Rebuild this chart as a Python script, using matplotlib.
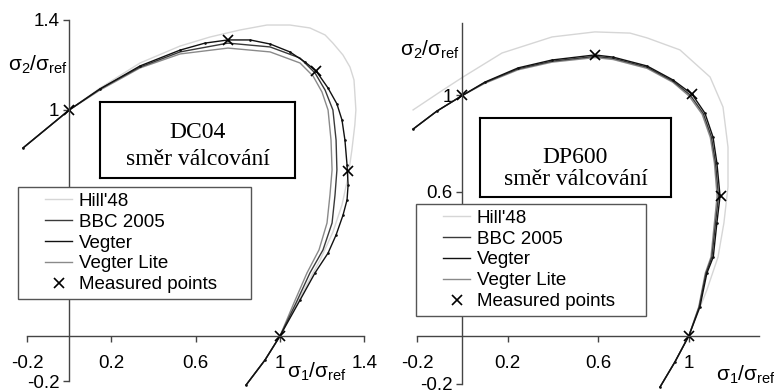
import matplotlib
matplotlib.use('Agg')
import matplotlib.pyplot as plt
from matplotlib.lines import Line2D
from matplotlib.legend_handler import HandlerLine2D

plt.rcParams['font.family'] = 'Liberation Sans'
plt.rcParams['font.size'] = 13.5
plt.rcParams['axes.unicode_minus'] = False
plt.rcParams['mathtext.fontset'] = 'custom'
plt.rcParams['mathtext.rm'] = 'Liberation Sans'
plt.rcParams['mathtext.it'] = 'Liberation Sans:italic'

W, H = 774, 392

# axis ticks
ticks = [-0.2, 0.2, 0.6, 1.0, 1.4]
tick_labels = ['-0.2', '0.2', '0.6', '1', '1.4']
series_names = ["Hill'48", 'BBC 2005', 'Vegter', 'Vegter Lite', 'Measured points']

# DC04, rolling direction (sigma1/sigma_ref, sigma2/sigma_ref)
dc04_hill_x = [-0.219, 0.0, 0.146, 0.336, 0.526, 0.668, 0.810, 0.938, 1.047, 1.142, 1.214, 1.251,
               1.299, 1.332, 1.351, 1.355, 1.360, 1.355, 1.341, 1.323, 1.294, 1.251, 1.190, 1.109,
               1.0, 0.929, 0.839]
dc04_hill_y = [0.832, 1.0, 1.097, 1.208, 1.283, 1.323, 1.354, 1.376, 1.376, 1.363, 1.332, 1.296,
               1.243, 1.190, 1.133, 1.075, 1.0, 0.934, 0.823, 0.704, 0.580, 0.460, 0.336, 0.195,
               0.0, -0.106, -0.217]
dc04_bbc_x = [-0.219, 0.0, 0.146, 0.336, 0.526, 0.753, 0.953, 1.095, 1.166, 1.214, 1.251, 1.266,
              1.270, 1.261, 1.247, 1.204, 1.142, 1.076, 1.0, 0.929, 0.839]
dc04_bbc_y = [0.832, 1.0, 1.093, 1.190, 1.257, 1.296, 1.279, 1.230, 1.164, 1.088, 1.0, 0.867,
              0.735, 0.624, 0.500, 0.381, 0.279, 0.146, 0.0, -0.106, -0.217]
dc04_vegter_x = [-0.219, 0.0, 0.146, 0.336, 0.526, 0.644, 0.753, 0.858, 0.953, 1.047, 1.119, 1.171,
                 1.228, 1.270, 1.294, 1.308, 1.318, 1.323, 1.318, 1.299, 1.266, 1.228, 1.166, 1.095,
                 1.0, 0.929, 0.839]
dc04_vegter_y = [0.832, 1.0, 1.093, 1.195, 1.265, 1.296, 1.310, 1.310, 1.292, 1.257, 1.212, 1.173,
                 1.097, 1.027, 0.956, 0.867, 0.757, 0.668, 0.602, 0.535, 0.447, 0.367, 0.279, 0.159,
                 0.0, -0.106, -0.217]
dc04_lite_x = [-0.219, 0.0, 0.146, 0.336, 0.526, 0.753, 0.953, 1.095, 1.157, 1.199, 1.228, 1.242,
               1.247, 1.237, 1.223, 1.185, 1.128, 1.066, 1.0, 0.929, 0.839]
dc04_lite_y = [0.832, 1.0, 1.088, 1.186, 1.248, 1.274, 1.257, 1.208, 1.150, 1.080, 1.0, 0.867,
               0.735, 0.624, 0.500, 0.381, 0.279, 0.146, 0.0, -0.106, -0.217]
dc04_meas_x = [0.0, 0.753, 1.171, 1.323, 1.0]
dc04_meas_y = [1.0, 1.310, 1.173, 0.730, 0.0]

# DP600, rolling direction
dp600_hill_x = [-0.217, -0.098, 0.003, 0.175, 0.396, 0.585, 0.740, 0.815, 0.960, 1.093, 1.150, 1.172,
                1.172, 1.154, 1.128, 1.079, 1.035, 1.0, 0.938, 0.872]
dp600_hill_y = [0.940, 1.015, 1.077, 1.177, 1.244, 1.265, 1.260, 1.240, 1.190, 1.077, 0.952, 0.785,
                0.619, 0.469, 0.327, 0.190, 0.085, 0.0, -0.110, -0.215]
dp600_bbc_x = [-0.217, -0.112, 0.0, 0.100, 0.246, 0.396, 0.585, 0.665, 0.815, 0.929, 1.005, 1.063,
               1.099, 1.117, 1.130, 1.117, 1.101, 1.075, 1.045, 1.0, 0.938, 0.872]
dp600_bbc_y = [0.860, 0.935, 1.0, 1.054, 1.111, 1.143, 1.163, 1.155, 1.118, 1.060, 1.002, 0.925,
               0.827, 0.719, 0.581, 0.469, 0.327, 0.260, 0.119, 0.0, -0.110, -0.215]
dp600_vegter_x = [-0.217, -0.112, 0.0, 0.100, 0.246, 0.396, 0.585, 0.665, 0.815, 0.929, 1.013, 1.070,
                  1.106, 1.123, 1.137, 1.123, 1.107, 1.079, 1.048, 1.0, 0.938, 0.872]
dp600_vegter_y = [0.860, 0.935, 1.0, 1.056, 1.115, 1.148, 1.169, 1.160, 1.123, 1.065, 1.006, 0.927,
                  0.827, 0.719, 0.581, 0.469, 0.327, 0.260, 0.119, 0.0, -0.110, -0.215]
dp600_lite_x = [-0.217, -0.112, 0.0, 0.100, 0.246, 0.396, 0.585, 0.665, 0.815, 0.929, 1.000, 1.058,
                1.094, 1.112, 1.124, 1.112, 1.097, 1.072, 1.043, 1.0, 0.938, 0.872]
dp600_lite_y = [0.860, 0.935, 1.0, 1.051, 1.107, 1.139, 1.158, 1.150, 1.113, 1.055, 0.998, 0.922,
                0.825, 0.719, 0.581, 0.469, 0.327, 0.260, 0.119, 0.0, -0.110, -0.215]
dp600_meas_x = [0.0, 0.585, 1.013, 1.140, 1.0]
dp600_meas_y = [1.0, 1.169, 1.006, 0.581, 0.0]


def make_axes(fig, x0, sx, y0, sy, xlim, ylim):
    # x0, y0: pixel position of the origin, sx, sy: pixels per unit
    left = x0 + sx * xlim[0]
    right = x0 + sx * xlim[1]
    top = y0 - sy * ylim[1]
    bottom = y0 - sy * ylim[0]
    ax = fig.add_axes([left / W, 1 - bottom / H, (right - left) / W, (bottom - top) / H])
    ax.set_xlim(xlim)
    ax.set_ylim(ylim)
    ax.patch.set_visible(False)
    return ax


def style_axes(ax, nx, ny, xbound, ybound):
    for s in ['top', 'right']:
        ax.spines[s].set_visible(False)
    ax.spines['left'].set_position(('data', 0))
    ax.spines['bottom'].set_position(('data', 0))
    ax.spines['left'].set_bounds(*ybound)
    ax.spines['bottom'].set_bounds(*xbound)
    for s in ['left', 'bottom']:
        ax.spines[s].set_color('#444444')
        ax.spines[s].set_linewidth(1.0)
    ax.set_xticks(ticks[:nx], tick_labels[:nx])
    ax.set_yticks(ticks[:ny], tick_labels[:ny])
    ax.tick_params(axis='x', direction='out', length=4, width=1, color='#444444', pad=10)
    ax.tick_params(axis='y', direction='out', length=4, width=1, color='#444444', pad=3)


def draw_loci(ax, hx, hy, bx, by, vx, vy, lx, ly, mx, my):
    h1, = ax.plot(hx, hy, color='#d6d6d6', lw=1.0)
    h4, = ax.plot(lx, ly, color='#8a8a8a', lw=1.0)
    h2, = ax.plot(bx, by, color='#3a3a3a', lw=1.0)
    h3, = ax.plot(vx, vy, color='#111111', lw=1.0)
    ax.plot(vx, vy, ls='none', marker='.', ms=1.8, color='#111111')
    h5, = ax.plot(mx, my, ls='none', marker='x', ms=7, mew=1.2, color='black')
    return [h1, h2, h3, h4, h5]


def add_legend(ax, handles, x, y, w, h):
    leg = ax.legend(handles, series_names, loc='upper left',
                    bbox_to_anchor=(x / W, 1 - (y + h) / H, w / W, h / H),
                    bbox_transform=ax.figure.transFigure, mode='expand',
                    borderaxespad=0, borderpad=0.3, labelspacing=0.2,
                    handlelength=2.58, handletextpad=0.35, fancybox=False,
                    edgecolor='#555555', framealpha=1, fontsize=13.5,
                    handler_map={Line2D: HandlerLine2D(xpad=1.14)})
    leg.get_frame().set_linewidth(1.0)


def name_box(fig, x0, y0, x1, y1, title, base1, base2):
    bax = fig.add_axes([x0 / W, 1 - y1 / H, (x1 - x0) / W, (y1 - y0) / H])
    bax.set_xticks([])
    bax.set_yticks([])
    for s in bax.spines.values():
        s.set_linewidth(1.5)
        s.set_color('black')
    for txt, base in [(title, base1), ('směr válcování', base2)]:
        bax.text(0.5, (y1 - base) / (y1 - y0), txt, ha='center', va='baseline',
                 family='Liberation Serif', fontsize=17, transform=bax.transAxes)


fig = plt.figure(figsize=(W / 100, H / 100), dpi=100)

# DC04
ax1 = make_axes(fig, 69.2, 210.8, 336, 226, (-0.25, 1.5), (-0.27, 1.45))
style_axes(ax1, 5, 5, (-0.2, 1.4), (-0.2, 1.4))
hs = draw_loci(ax1, dc04_hill_x, dc04_hill_y, dc04_bbc_x, dc04_bbc_y, dc04_vegter_x, dc04_vegter_y,
               dc04_lite_x, dc04_lite_y, dc04_meas_x, dc04_meas_y)
ax1.set_xlabel(r'$\mathrm{\sigma_1/\sigma_{ref}}$', fontsize=15)
ax1.xaxis.set_label_coords(1.176, -0.159, transform=ax1.transData)
ax1.xaxis.label.set_va('center')
ax1.set_ylabel(r'$\mathrm{\sigma_2/\sigma_{ref}}$', fontsize=15, rotation=0)
ax1.yaxis.set_label_coords(-0.006, 1.2, transform=ax1.transData)
ax1.yaxis.label.set_ha('right')
ax1.yaxis.label.set_va('center')
add_legend(ax1, hs, 18, 187, 233, 111)
name_box(fig, 100, 102, 295, 178, 'DC04', 138, 165)

# DP600
ax2 = make_axes(fig, 462.3, 226.7, 335.5, 240, (-0.25, 1.42), (-0.25, 1.45))
style_axes(ax2, 4, 4, (-0.2, 1.31), (-0.2, 1.3))
hs = draw_loci(ax2, dp600_hill_x, dp600_hill_y, dp600_bbc_x, dp600_bbc_y, dp600_vegter_x,
               dp600_vegter_y, dp600_lite_x, dp600_lite_y, dp600_meas_x, dp600_meas_y)
ax2.set_xlabel(r'$\mathrm{\sigma_1/\sigma_{ref}}$', fontsize=15)
ax2.xaxis.set_label_coords(1.118, -0.165, transform=ax2.transData)
ax2.xaxis.label.set_ha('left')
ax2.xaxis.label.set_va('center')
ax2.set_ylabel(r'$\mathrm{\sigma_2/\sigma_{ref}}$', fontsize=15, rotation=0)
ax2.yaxis.set_label_coords(-0.01, 1.19, transform=ax2.transData)
ax2.yaxis.label.set_ha('right')
ax2.yaxis.label.set_va('center')
add_legend(ax2, hs, 416, 204, 230, 114)
name_box(fig, 480, 118, 671, 197, 'DP600', 163, 185)

fig.savefig('out.png', dpi=100)
